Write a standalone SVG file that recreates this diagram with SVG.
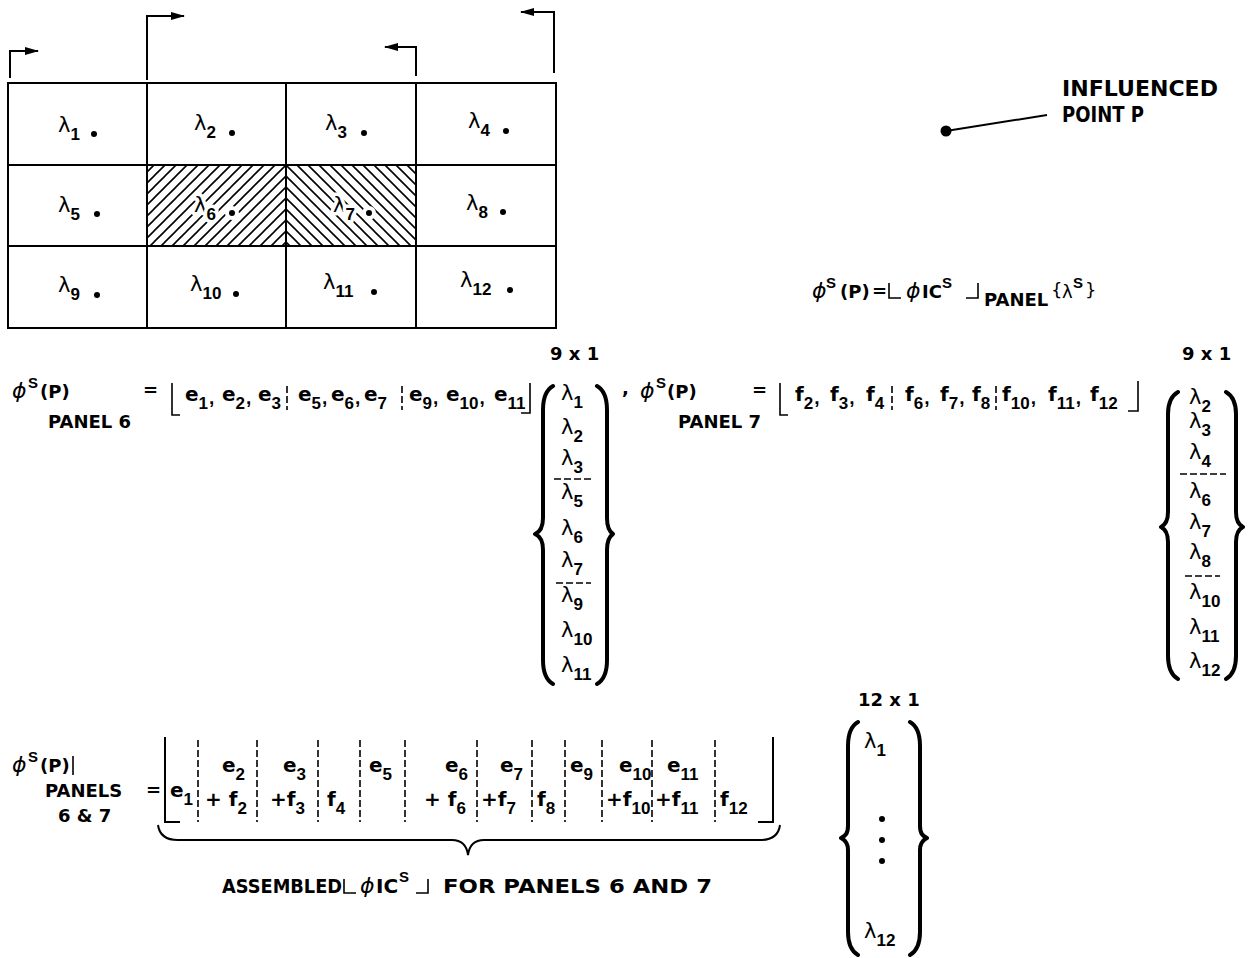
<svg xmlns="http://www.w3.org/2000/svg" width="1254" height="958" viewBox="0 0 1254 958">
<style>
text{font-family:"DejaVu Sans","Liberation Sans",sans-serif;font-weight:bold;fill:#000}
.lam{font-weight:normal;font-size:21px}
.glam{font-weight:normal;font-size:21px}
.m{font-size:20px}
.sb{font-family:"Liberation Sans",Arial,sans-serif;font-size:17px;font-weight:bold}
.cm{font-family:"Liberation Sans",Arial,sans-serif;font-size:19px;font-weight:bold}
.sup{font-family:"Liberation Sans",Arial,sans-serif;font-size:15px;font-weight:bold}
.phi{font-style:italic;font-weight:normal;font-size:22px}
.lbl{font-size:18px}
.big{font-size:20px}
.ln{stroke:#000;stroke-width:2;fill:none}
.thin{stroke:#000;stroke-width:1.6;fill:none}
.br{stroke:#000;stroke-width:4;fill:none;stroke-linecap:round;stroke-linejoin:round}
.dsh{stroke:#000;stroke-width:1.6;fill:none;stroke-dasharray:7 3}
.halo{stroke:#fff;stroke-width:7;paint-order:stroke;stroke-linejoin:round}
</style>
<defs>
<pattern id="hatchR" patternUnits="userSpaceOnUse" width="11" height="11">
<path d="M0,11 L11,0 M-2,2 L2,-2 M9,13 L13,9" stroke="#000" stroke-width="1.6"/>
</pattern>
<pattern id="hatchL" patternUnits="userSpaceOnUse" width="11" height="11">
<path d="M0,0 L11,11 M-2,9 L2,13 M9,-2 L13,2" stroke="#000" stroke-width="1.6"/>
</pattern>
<marker id="ah" markerWidth="14" markerHeight="8" refX="13" refY="4" orient="auto" markerUnits="userSpaceOnUse">
<path d="M0,0 L14,4 L0,8 Z" fill="#000"/>
</marker>
</defs>
<rect width="1254" height="958" fill="#fff"/>

<!-- panel grid -->
<g id="grid">
<rect x="147" y="165" width="139" height="81" fill="url(#hatchR)"/>
<rect x="286" y="165" width="130" height="81" fill="url(#hatchL)"/>
<rect x="8" y="83" width="548" height="245" class="ln"/>
<path class="ln" d="M147,83 V328 M286,83 V328 M416,83 V328 M8,165 H556 M8,246 H556"/>
</g>
<g id="panel-1"><text class="glam" x="58" y="132">λ<tspan class="sb" dy="8">1</tspan></text><circle cx="94" cy="134" r="3"/></g>
<g id="panel-2"><text class="glam" x="194" y="130">λ<tspan class="sb" dy="8">2</tspan></text><circle cx="232" cy="133" r="3"/></g>
<g id="panel-3"><text class="glam" x="325" y="130">λ<tspan class="sb" dy="8">3</tspan></text><circle cx="364" cy="133" r="3"/></g>
<g id="panel-4"><text class="glam" x="468" y="128">λ<tspan class="sb" dy="8">4</tspan></text><circle cx="506" cy="131" r="3"/></g>
<g id="panel-5"><text class="glam" x="58" y="212">λ<tspan class="sb" dy="8">5</tspan></text><circle cx="97" cy="214" r="3"/></g>
<g id="panel-6"><text class="glam halo" x="194" y="212">λ<tspan class="sb" dy="8">6</tspan></text><circle cx="232" cy="213" r="7" fill="#fff"/><circle cx="232" cy="213" r="3"/></g>
<g id="panel-7"><text class="glam halo" x="333" y="212">λ<tspan class="sb" dy="8">7</tspan></text><circle cx="369" cy="213" r="7" fill="#fff"/><circle cx="369" cy="213" r="3"/></g>
<g id="panel-8"><text class="glam" x="466" y="210">λ<tspan class="sb" dy="8">8</tspan></text><circle cx="503" cy="212" r="3"/></g>
<g id="panel-9"><text class="glam" x="58" y="292">λ<tspan class="sb" dy="8">9</tspan></text><circle cx="97" cy="295" r="3"/></g>
<g id="panel-10"><text class="glam" x="190" y="291">λ<tspan class="sb" dy="8">10</tspan></text><circle cx="236" cy="294" r="3"/></g>
<g id="panel-11"><text class="glam" x="323" y="289">λ<tspan class="sb" dy="8">11</tspan></text><circle cx="374" cy="292" r="3"/></g>
<g id="panel-12"><text class="glam" x="460" y="287">λ<tspan class="sb" dy="8">12</tspan></text><circle cx="510" cy="290" r="3"/></g>

<!-- section arrows and leader -->
<g id="connectors">
<path class="ln" d="M10,78 V51 H38" marker-end="url(#ah)"/>
<path class="ln" d="M147,80 V16 H184" marker-end="url(#ah)"/>
<path class="ln" d="M416,76 V47 H385" marker-end="url(#ah)"/>
<path class="ln" d="M554,73 V12 H521" marker-end="url(#ah)"/>
<line class="ln" x1="946" y1="131" x2="1047" y2="115"/>
</g>

<g id="influenced-point">
<circle cx="946" cy="131" r="5.5"/>
<text class="lbl" x="1062" y="96" style="font-size:21px" textLength="156" lengthAdjust="spacingAndGlyphs">INFLUENCED</text>
<text class="lbl" x="1062" y="122" style="font-size:21px" textLength="82" lengthAdjust="spacingAndGlyphs">POINT P</text>
</g>

<!-- general formula -->
<g id="formula-general">
<text class="phi" x="812" y="298">ϕ</text>
<text class="sup" x="826" y="288">S</text>
<text class="lbl" x="840" y="298">(P)</text>
<text class="lbl" x="872" y="297">=</text>
<path class="thin" d="M889,283 V298 H901"/>
<text class="phi" x="906" y="298">ϕ</text>
<text class="lbl" x="922" y="298">IC</text>
<text class="sup" x="942" y="288">S</text>
<path class="thin" d="M966,298 H978 V283"/>
<text class="lbl" x="984" y="306">PANEL</text>
<text class="lbl" x="1051" y="296" style="font-weight:normal">{</text>
<text class="lam" x="1062" y="298" style="font-size:18px">λ</text>
<text class="sup" x="1073" y="288">S</text>
<text class="lbl" x="1085" y="296" style="font-weight:normal">}</text>
</g>

<!-- panel 6 equation -->
<g id="eq-panel6">
<text class="phi" x="12" y="398">ϕ</text>
<text class="sup" x="28" y="388">S</text>
<text class="lbl" x="40" y="398">(P)</text>
<text class="lbl" x="48" y="428">PANEL 6</text>
<text class="lbl" x="143" y="396">=</text>
<path class="thin" d="M172,383 V415 H180"/>
<text class="m" x="185" y="401">e<tspan class="sb" dy="8">1</tspan><tspan class="cm" dy="-5" dx="1">,</tspan></text>
<text class="m" x="222" y="401">e<tspan class="sb" dy="8">2</tspan><tspan class="cm" dy="-5" dx="1">,</tspan></text>
<text class="m" x="258" y="401">e<tspan class="sb" dy="8">3</tspan></text>
<line class="dsh" x1="287" y1="386" x2="287" y2="410"/>
<text class="m" x="298" y="401">e<tspan class="sb" dy="8">5</tspan><tspan class="cm" dy="-5" dx="1">,</tspan></text>
<text class="m" x="331" y="401">e<tspan class="sb" dy="8">6</tspan><tspan class="cm" dy="-5" dx="1">,</tspan></text>
<text class="m" x="364" y="401">e<tspan class="sb" dy="8">7</tspan></text>
<line class="dsh" x1="402" y1="386" x2="402" y2="410"/>
<text class="m" x="409" y="401">e<tspan class="sb" dy="8">9</tspan><tspan class="cm" dy="-5" dx="1">,</tspan></text>
<text class="m" x="446" y="401">e<tspan class="sb" dy="8">10</tspan><tspan class="cm" dy="-5" dx="1">,</tspan></text>
<text class="m" x="494" y="401">e<tspan class="sb" dy="8">11</tspan></text>
<path class="thin" d="M521,413 H530 V383"/>
<text class="lbl" x="550" y="360">9 x 1</text>
<path class="br" d="M553,386 C546,390 543,398 543,410 L543,518 C543,528 540,532 535,534 C540,536 543,540 543,550 L543,660 C543,672 546,680 553,684"/>
<path class="br" d="M597,386 C604,390 607,398 607,410 L607,518 C607,528 610,532 613,534 C610,536 607,540 607,550 L607,660 C607,672 604,680 597,684"/>
<text class="lam" x="561" y="400">λ<tspan class="sb" dy="8">1</tspan></text>
<text class="lam" x="561" y="434">λ<tspan class="sb" dy="8">2</tspan></text>
<text class="lam" x="561" y="465">λ<tspan class="sb" dy="8">3</tspan></text>
<line class="dsh" x1="554" y1="479" x2="591" y2="479"/>
<text class="lam" x="561" y="499">λ<tspan class="sb" dy="8">5</tspan></text>
<text class="lam" x="561" y="535">λ<tspan class="sb" dy="8">6</tspan></text>
<text class="lam" x="561" y="567">λ<tspan class="sb" dy="8">7</tspan></text>
<line class="dsh" x1="556" y1="583" x2="591" y2="583"/>
<text class="lam" x="561" y="602">λ<tspan class="sb" dy="8">9</tspan></text>
<text class="lam" x="561" y="637">λ<tspan class="sb" dy="8">10</tspan></text>
<text class="lam" x="561" y="672">λ<tspan class="sb" dy="8">11</tspan></text>
<text class="lbl" x="622" y="394">,</text>
</g>

<!-- panel 7 equation -->
<g id="eq-panel7">
<text class="phi" x="640" y="398">ϕ</text>
<text class="sup" x="656" y="388">S</text>
<text class="lbl" x="667" y="398">(P)</text>
<text class="lbl" x="678" y="428">PANEL 7</text>
<text class="lbl" x="752" y="396">=</text>
<path class="thin" d="M780,383 V415 H788"/>
<text class="m" x="795" y="401">f<tspan class="sb" dy="8">2</tspan><tspan class="cm" dy="-5" dx="1">,</tspan></text>
<text class="m" x="830" y="401">f<tspan class="sb" dy="8">3</tspan><tspan class="cm" dy="-5" dx="1">,</tspan></text>
<text class="m" x="866" y="401">f<tspan class="sb" dy="8">4</tspan></text>
<line class="dsh" x1="892" y1="386" x2="892" y2="410"/>
<text class="m" x="905" y="401">f<tspan class="sb" dy="8">6</tspan><tspan class="cm" dy="-5" dx="1">,</tspan></text>
<text class="m" x="940" y="401">f<tspan class="sb" dy="8">7</tspan><tspan class="cm" dy="-5" dx="1">,</tspan></text>
<text class="m" x="972" y="401">f<tspan class="sb" dy="8">8</tspan></text>
<line class="dsh" x1="996" y1="386" x2="996" y2="410"/>
<text class="m" x="1002" y="401">f<tspan class="sb" dy="8">10</tspan><tspan class="cm" dy="-5" dx="1">,</tspan></text>
<text class="m" x="1048" y="401">f<tspan class="sb" dy="8">11</tspan><tspan class="cm" dy="-5" dx="1">,</tspan></text>
<text class="m" x="1090" y="401">f<tspan class="sb" dy="8">12</tspan></text>
<path class="thin" d="M1128,411 H1138 V381"/>
<text class="lbl" x="1182" y="360">9 x 1</text>
<path class="br" d="M1178,392 C1171,396 1168,403 1168,414 L1168,512 C1168,521 1165,525 1161,527 C1165,529 1168,533 1168,542 L1168,656 C1168,668 1171,675 1178,679"/>
<path class="br" d="M1226,392 C1233,396 1236,403 1236,414 L1236,512 C1236,521 1239,525 1243,527 C1239,529 1236,533 1236,542 L1236,656 C1236,668 1233,675 1226,679"/>
<text class="lam" x="1189" y="404">λ<tspan class="sb" dy="8">2</tspan></text>
<text class="lam" x="1189" y="428">λ<tspan class="sb" dy="8">3</tspan></text>
<text class="lam" x="1189" y="459">λ<tspan class="sb" dy="8">4</tspan></text>
<line class="dsh" x1="1180" y1="474" x2="1226" y2="474"/>
<text class="lam" x="1189" y="498">λ<tspan class="sb" dy="8">6</tspan></text>
<text class="lam" x="1189" y="529">λ<tspan class="sb" dy="8">7</tspan></text>
<text class="lam" x="1189" y="559">λ<tspan class="sb" dy="8">8</tspan></text>
<line class="dsh" x1="1185" y1="576" x2="1220" y2="576"/>
<text class="lam" x="1189" y="599">λ<tspan class="sb" dy="8">10</tspan></text>
<text class="lam" x="1189" y="634">λ<tspan class="sb" dy="8">11</tspan></text>
<text class="lam" x="1189" y="668">λ<tspan class="sb" dy="8">12</tspan></text>
</g>

<!-- assembled equation -->
<g id="eq-assembled">
<text class="phi" x="12" y="772">ϕ</text>
<text class="sup" x="28" y="762">S</text>
<text class="lbl" x="40" y="772">(P)</text>
<line class="thin" x1="73" y1="756" x2="73" y2="775"/>
<text class="lbl" x="45" y="797">PANELS</text>
<text class="lbl" x="58" y="822">6 &amp; 7</text>
<text class="lbl" x="146" y="796">=</text>
<path class="ln" d="M165,737 V822 H180"/>
<text class="m" x="170" y="797">e<tspan class="sb" dy="8">1</tspan></text>
<g class="dsh">
<line x1="198" y1="740" x2="198" y2="822"/>
<line x1="257" y1="740" x2="257" y2="822"/>
<line x1="318" y1="740" x2="318" y2="822"/>
<line x1="360" y1="740" x2="360" y2="822"/>
<line x1="405" y1="740" x2="405" y2="822"/>
<line x1="477" y1="740" x2="477" y2="822"/>
<line x1="532" y1="740" x2="532" y2="822"/>
<line x1="565" y1="740" x2="565" y2="822"/>
<line x1="602" y1="740" x2="602" y2="822"/>
<line x1="652" y1="740" x2="652" y2="822"/>
<line x1="715" y1="740" x2="715" y2="822"/>
</g>
<text class="m" x="222" y="772">e<tspan class="sb" dy="8">2</tspan></text>
<text class="m" x="283" y="772">e<tspan class="sb" dy="8">3</tspan></text>
<text class="m" x="369" y="772">e<tspan class="sb" dy="8">5</tspan></text>
<text class="m" x="445" y="772">e<tspan class="sb" dy="8">6</tspan></text>
<text class="m" x="500" y="772">e<tspan class="sb" dy="8">7</tspan></text>
<text class="m" x="570" y="772">e<tspan class="sb" dy="8">9</tspan></text>
<text class="m" x="619" y="772">e<tspan class="sb" dy="8">10</tspan></text>
<text class="m" x="667" y="772">e<tspan class="sb" dy="8">11</tspan></text>
<text class="m" x="205" y="806">+ f<tspan class="sb" dy="8">2</tspan></text>
<text class="m" x="270" y="806">+f<tspan class="sb" dy="8">3</tspan></text>
<text class="m" x="327" y="806">f<tspan class="sb" dy="8">4</tspan></text>
<text class="m" x="424" y="806">+ f<tspan class="sb" dy="8">6</tspan></text>
<text class="m" x="481" y="806">+f<tspan class="sb" dy="8">7</tspan></text>
<text class="m" x="537" y="806">f<tspan class="sb" dy="8">8</tspan></text>
<text class="m" x="606" y="806">+f<tspan class="sb" dy="8">10</tspan></text>
<text class="m" x="655" y="806">+f<tspan class="sb" dy="8">11</tspan></text>
<text class="m" x="720" y="806">f<tspan class="sb" dy="8">12</tspan></text>
<path class="ln" d="M758,822 H773 V737"/>
<path class="ln" d="M158,825 Q160,840 178,840 H452 Q466,840 468,855 Q470,840 484,840 H760 Q778,840 780,825"/>
<text class="big" x="222" y="893" textLength="120" lengthAdjust="spacingAndGlyphs">ASSEMBLED</text>
<path class="thin" d="M344,879 V893 H356"/>
<text class="phi" x="360" y="893">ϕ</text>
<text class="big" x="376" y="893">IC</text>
<text class="sup" x="399" y="882">S</text>
<path class="thin" d="M416,893 H428 V879"/>
<text class="big" x="443" y="893" textLength="269" lengthAdjust="spacingAndGlyphs">FOR PANELS 6 AND 7</text>
</g>

<g id="vector-12">
<text class="lbl" x="858" y="706">12 x 1</text>
<path class="br" d="M858,722 C851,726 848,734 848,746 L848,826 C848,834 845,836 841,838 C845,840 848,843 848,850 L848,932 C848,944 851,951 858,955"/>
<path class="br" d="M910,722 C917,726 920,734 920,746 L920,826 C920,834 923,836 927,838 C923,840 920,843 920,850 L920,932 C920,944 917,951 910,955"/>
<text class="lam" x="864" y="748">λ<tspan class="sb" dy="8">1</tspan></text>
<circle cx="882" cy="819" r="3"/>
<circle cx="882" cy="840" r="3"/>
<circle cx="882" cy="861" r="3"/>
<text class="lam" x="864" y="938">λ<tspan class="sb" dy="8">12</tspan></text>
</g>
</svg>
